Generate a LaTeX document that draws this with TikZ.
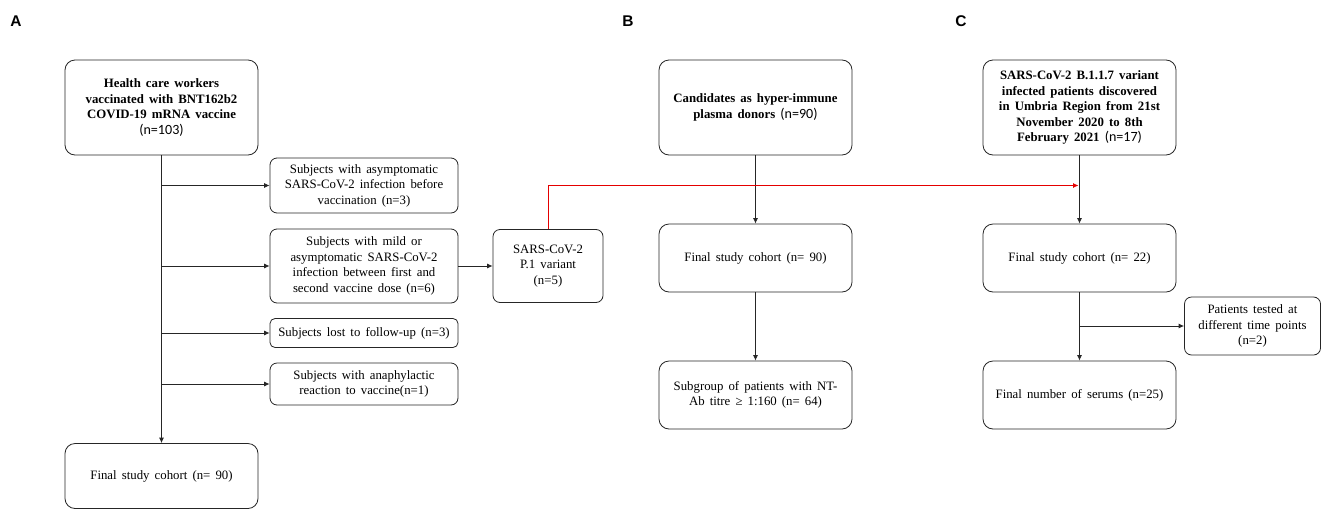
\documentclass[tikz,border=0pt]{standalone}
\usepackage{fontspec}
\setmainfont{Liberation Serif}
\newfontfamily\calfont[Scale=1.1]{Carlito}
\newfontfamily\labfont{Liberation Sans}
\usetikzlibrary{arrows.meta}
\newcommand\boxfont{\fontsize{12.8}{15.5}\selectfont\spaceskip=0.4em plus 0.1em minus 0.05em\relax}
\begin{document}
\begin{tikzpicture}[x=1pt,y=-1pt,
  bx/.style={draw=black!85, line width=0.8pt, rounded corners=10pt, align=center, inner sep=0pt,
    font=\boxfont},
  sbx/.style={bx, rounded corners=7pt},
  arr/.style={draw=black!85, line width=0.8pt, -{Latex[length=5.5pt,width=5pt]}},
  redarr/.style={draw=red!90!black, line width=0.8pt, -{Latex[length=5.5pt,width=5pt]}},
  plab/.style={font=\labfont\bfseries\fontsize{15.5}{18}\selectfont, anchor=center}]
\useasboundingbox (0,0) rectangle (1322,509);
\fill[white] (0,0) rectangle (1322,509);

\node[plab] (la) at (16,21) {A};
\node[plab] (lb) at (628,21) {B};
\node[plab] (lc) at (961,21) {C};

% Panel A
\node[bx, minimum width=193pt, minimum height=95pt] (hcw) at (161.5,107.5)
  {\textbf{Health care workers}\\\textbf{vaccinated with BNT162b2}\\\textbf{COVID-19 mRNA vaccine}\\{\calfont (n=103)}};
\node[sbx, minimum width=188pt, minimum height=55pt] (asym) at (364,185.5)
  {Subjects with asymptomatic\\SARS-CoV-2 infection before\\vaccination (n=3)};
\node[sbx, minimum width=188pt, minimum height=74pt] (mild) at (364,266)
  {Subjects with mild or\\asymptomatic SARS-CoV-2\\infection between first and\\second vaccine dose (n=6)};
\node[sbx, minimum width=110pt, minimum height=73pt] (p1) at (548,266)
  {SARS-CoV-2\\P.1 variant\\(n=5)};
\node[sbx, rounded corners=5pt, minimum width=188pt, minimum height=29pt] (lost) at (364,333)
  {Subjects lost to follow-up (n=3)};
\node[sbx, minimum width=188pt, minimum height=42pt] (ana) at (364,384)
  {Subjects with anaphylactic\\reaction to vaccine(n=1)};
\node[bx, minimum width=193pt, minimum height=65pt] (final1) at (161.5,476)
  {Final study cohort (n= 90)};

\draw[arr] (hcw.south) -- (final1.north);
\draw[arr] (hcw.south |- asym.west) -- (asym.west);
\draw[arr] (hcw.south |- mild.west) -- (mild.west);
\draw[arr] (hcw.south |- lost.west) -- (lost.west);
\draw[arr] (hcw.south |- ana.west) -- (ana.west);
\draw[arr] (mild.east) -- (p1.west);

% Panel B
\node[bx, minimum width=193pt, minimum height=95pt] (cand) at (755.5,107.5)
  {\textbf{Candidates as hyper-immune}\\\textbf{plasma donors} {\calfont (n=90)}};
\node[bx, minimum width=193pt, minimum height=68pt] (final2) at (755.5,258)
  {Final study cohort (n= 90)};
\node[bx, minimum width=193pt, minimum height=68pt] (sub) at (755.5,395)
  {Subgroup of patients with NT-\\Ab titre ≥ 1:160 (n= 64)};
\draw[arr] (cand.south) -- (final2.north);
\draw[arr] (final2.south) -- (sub.north);

% Panel C
\node[bx, minimum width=193pt, minimum height=95pt] (b117) at (1079.5,107.5)
  {\textbf{SARS-CoV-2 B.1.1.7 variant}\\\textbf{infected patients discovered}\\\textbf{in Umbria Region from 21st}\\\textbf{November 2020 to 8th}\\\textbf{February 2021} {\calfont (n=17)}};
\node[bx, minimum width=193pt, minimum height=68pt] (final3) at (1079.5,258)
  {Final study cohort (n= 22)};
\node[sbx, minimum width=136pt, minimum height=58pt] (pat) at (1252.5,326)
  {Patients tested at\\different time points\\(n=2)};
\node[bx, minimum width=193pt, minimum height=68pt] (serums) at (1079.5,395)
  {Final number of serums (n=25)};
\draw[arr] (b117.south) -- (final3.north);
\draw[arr] (final3.south) -- (serums.north);
\draw[arr] (final3.south |- pat.west) -- (pat.west);

% Red connector
\coordinate (redend) at (1078.5,185.5);
\draw[redarr] (p1.north) |- (redend);
\end{tikzpicture}
\end{document}
